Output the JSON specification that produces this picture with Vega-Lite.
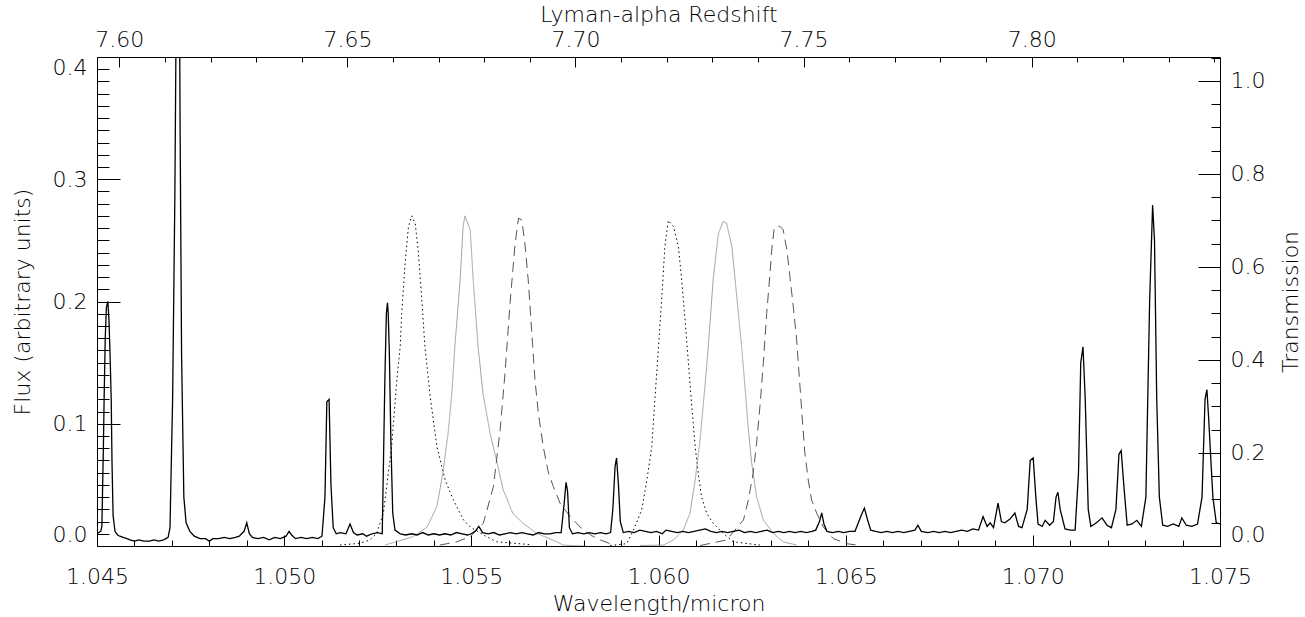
{
  "$schema": "https://vega.github.io/schema/vega-lite/v6.json",
  "width": 1123,
  "height": 489,
  "autosize": {"type": "none"},
  "padding": {"left": 97, "top": 57, "right": 85, "bottom": 71},
  "background": "white",
  "config": {
    "view": {"stroke": "#000000", "strokeWidth": 1},
    "axis": {
      "labelFont": "DejaVu Sans", "labelFontSize": 22, "labelColor": "#000000", "labelFontWeight": 200,
      "titleFont": "DejaVu Sans", "titleFontSize": 22, "titleFontWeight": 200, "titleColor": "#000000",
      "tickColor": "#000000", "tickWidth": 1, "domain": false, "grid": false,
      "labelOverlap": false, "labelFlush": false
    }
  },
  "datasets": {
    "flux": [
      {"wl":1.04500,"f":0.010},{"wl":1.04505,"f":0.011},{"wl":1.04510,"f":0.012},{"wl":1.04513,"f":0.016},{"wl":1.04517,"f":0.08},{"wl":1.04519,"f":0.12},{"wl":1.04522,"f":0.17},{"wl":1.04525,"f":0.195},{"wl":1.04529,"f":0.200},{"wl":1.04532,"f":0.185},{"wl":1.04535,"f":0.155},{"wl":1.04538,"f":0.12},{"wl":1.04540,"f":0.07},{"wl":1.04543,"f":0.025},{"wl":1.04548,"f":0.012},{"wl":1.04555,"f":0.009},{"wl":1.04561,"f":0.008},{"wl":1.04570,"f":0.007},{"wl":1.04580,"f":0.006},{"wl":1.04588,"f":0.005},{"wl":1.04600,"f":0.004},{"wl":1.04612,"f":0.005},{"wl":1.04625,"f":0.004},{"wl":1.04640,"f":0.004},{"wl":1.04652,"f":0.005},{"wl":1.04665,"f":0.004},{"wl":1.04678,"f":0.005},{"wl":1.04690,"f":0.007},{"wl":1.04695,"f":0.015},{"wl":1.04702,"f":0.12},{"wl":1.04708,"f":0.286},{"wl":1.04713,"f":0.5},{"wl":1.04718,"f":0.6},{"wl":1.04722,"f":0.342},{"wl":1.04726,"f":0.155},{"wl":1.04732,"f":0.04},{"wl":1.04738,"f":0.019},{"wl":1.04748,"f":0.012},{"wl":1.04760,"f":0.008},{"wl":1.04775,"f":0.006},{"wl":1.04790,"f":0.006},{"wl":1.04800,"f":0.004},{"wl":1.04810,"f":0.006},{"wl":1.04825,"f":0.006},{"wl":1.04840,"f":0.007},{"wl":1.04855,"f":0.006},{"wl":1.04870,"f":0.007},{"wl":1.04880,"f":0.008},{"wl":1.04893,"f":0.012},{"wl":1.04900,"f":0.019},{"wl":1.04907,"f":0.010},{"wl":1.04915,"f":0.007},{"wl":1.04930,"f":0.006},{"wl":1.04945,"f":0.007},{"wl":1.04960,"f":0.005},{"wl":1.04975,"f":0.007},{"wl":1.04990,"f":0.006},{"wl":1.05005,"f":0.008},{"wl":1.05013,"f":0.012},{"wl":1.05020,"f":0.009},{"wl":1.05030,"f":0.006},{"wl":1.05045,"f":0.007},{"wl":1.05060,"f":0.006},{"wl":1.05075,"f":0.007},{"wl":1.05090,"f":0.006},{"wl":1.05101,"f":0.008},{"wl":1.05109,"f":0.04},{"wl":1.05114,"f":0.118},{"wl":1.05120,"f":0.12},{"wl":1.05125,"f":0.05},{"wl":1.05131,"f":0.015},{"wl":1.05139,"f":0.010},{"wl":1.05150,"f":0.011},{"wl":1.05165,"f":0.010},{"wl":1.05176,"f":0.018},{"wl":1.05185,"f":0.011},{"wl":1.05195,"f":0.009},{"wl":1.05210,"f":0.010},{"wl":1.05220,"f":0.008},{"wl":1.05235,"f":0.010},{"wl":1.05250,"f":0.011},{"wl":1.05262,"f":0.010},{"wl":1.05269,"f":0.136},{"wl":1.05273,"f":0.19},{"wl":1.05276,"f":0.199},{"wl":1.05278,"f":0.19},{"wl":1.05281,"f":0.158},{"wl":1.05285,"f":0.087},{"wl":1.05290,"f":0.027},{"wl":1.05296,"f":0.013},{"wl":1.05310,"f":0.010},{"wl":1.05325,"f":0.009},{"wl":1.05340,"f":0.010},{"wl":1.05355,"f":0.009},{"wl":1.05370,"f":0.011},{"wl":1.05385,"f":0.009},{"wl":1.05400,"f":0.010},{"wl":1.05415,"f":0.009},{"wl":1.05430,"f":0.010},{"wl":1.05445,"f":0.009},{"wl":1.05460,"f":0.011},{"wl":1.05475,"f":0.010},{"wl":1.05490,"f":0.009},{"wl":1.05500,"f":0.010},{"wl":1.05510,"f":0.012},{"wl":1.05520,"f":0.016},{"wl":1.05530,"f":0.011},{"wl":1.05545,"f":0.010},{"wl":1.05560,"f":0.011},{"wl":1.05575,"f":0.009},{"wl":1.05590,"f":0.010},{"wl":1.05605,"f":0.011},{"wl":1.05620,"f":0.010},{"wl":1.05635,"f":0.011},{"wl":1.05650,"f":0.010},{"wl":1.05665,"f":0.009},{"wl":1.05680,"f":0.011},{"wl":1.05695,"f":0.010},{"wl":1.05710,"f":0.010},{"wl":1.05725,"f":0.011},{"wl":1.05740,"f":0.011},{"wl":1.05748,"f":0.035},{"wl":1.05753,"f":0.052},{"wl":1.05757,"f":0.045},{"wl":1.05762,"f":0.015},{"wl":1.05770,"f":0.010},{"wl":1.05785,"f":0.011},{"wl":1.05800,"f":0.010},{"wl":1.05815,"f":0.011},{"wl":1.05830,"f":0.010},{"wl":1.05845,"f":0.011},{"wl":1.05860,"f":0.010},{"wl":1.05872,"f":0.011},{"wl":1.05878,"f":0.03},{"wl":1.05884,"f":0.065},{"wl":1.05888,"f":0.072},{"wl":1.05893,"f":0.05},{"wl":1.05898,"f":0.02},{"wl":1.05906,"f":0.011},{"wl":1.05920,"f":0.012},{"wl":1.05935,"f":0.011},{"wl":1.05950,"f":0.013},{"wl":1.05965,"f":0.012},{"wl":1.05980,"f":0.011},{"wl":1.05995,"f":0.012},{"wl":1.06010,"f":0.010},{"wl":1.06020,"f":0.013},{"wl":1.06035,"f":0.012},{"wl":1.06050,"f":0.011},{"wl":1.06065,"f":0.012},{"wl":1.06080,"f":0.011},{"wl":1.06095,"f":0.012},{"wl":1.06110,"f":0.013},{"wl":1.06125,"f":0.014},{"wl":1.06140,"f":0.012},{"wl":1.06155,"f":0.011},{"wl":1.06170,"f":0.012},{"wl":1.06185,"f":0.011},{"wl":1.06200,"f":0.012},{"wl":1.06215,"f":0.013},{"wl":1.06230,"f":0.011},{"wl":1.06245,"f":0.012},{"wl":1.06260,"f":0.011},{"wl":1.06275,"f":0.012},{"wl":1.06290,"f":0.013},{"wl":1.06305,"f":0.011},{"wl":1.06320,"f":0.012},{"wl":1.06335,"f":0.011},{"wl":1.06350,"f":0.012},{"wl":1.06365,"f":0.011},{"wl":1.06380,"f":0.012},{"wl":1.06395,"f":0.011},{"wl":1.06410,"f":0.012},{"wl":1.06420,"f":0.013},{"wl":1.06430,"f":0.020},{"wl":1.06436,"f":0.027},{"wl":1.06442,"f":0.018},{"wl":1.06450,"f":0.012},{"wl":1.06465,"f":0.011},{"wl":1.06480,"f":0.012},{"wl":1.06495,"f":0.011},{"wl":1.06510,"f":0.012},{"wl":1.06525,"f":0.012},{"wl":1.06540,"f":0.024},{"wl":1.06550,"f":0.031},{"wl":1.06558,"f":0.022},{"wl":1.06567,"f":0.013},{"wl":1.06580,"f":0.012},{"wl":1.06595,"f":0.011},{"wl":1.06610,"f":0.012},{"wl":1.06625,"f":0.011},{"wl":1.06640,"f":0.012},{"wl":1.06655,"f":0.011},{"wl":1.06670,"f":0.012},{"wl":1.06685,"f":0.013},{"wl":1.06693,"f":0.017},{"wl":1.06702,"f":0.012},{"wl":1.06720,"f":0.011},{"wl":1.06735,"f":0.012},{"wl":1.06750,"f":0.011},{"wl":1.06765,"f":0.012},{"wl":1.06780,"f":0.011},{"wl":1.06795,"f":0.012},{"wl":1.06810,"f":0.013},{"wl":1.06825,"f":0.012},{"wl":1.06840,"f":0.014},{"wl":1.06855,"f":0.013},{"wl":1.06867,"f":0.024},{"wl":1.06878,"f":0.016},{"wl":1.06886,"f":0.019},{"wl":1.06895,"f":0.015},{"wl":1.06907,"f":0.035},{"wl":1.06916,"f":0.020},{"wl":1.06925,"f":0.019},{"wl":1.06939,"f":0.022},{"wl":1.06952,"f":0.027},{"wl":1.06962,"f":0.016},{"wl":1.06971,"f":0.015},{"wl":1.06985,"f":0.03},{"wl":1.06993,"f":0.07},{"wl":1.07001,"f":0.072},{"wl":1.07008,"f":0.04},{"wl":1.07014,"f":0.018},{"wl":1.07025,"f":0.016},{"wl":1.07033,"f":0.021},{"wl":1.07045,"f":0.017},{"wl":1.07055,"f":0.02},{"wl":1.07062,"f":0.040},{"wl":1.07067,"f":0.044},{"wl":1.07073,"f":0.03},{"wl":1.07086,"f":0.014},{"wl":1.07100,"f":0.013},{"wl":1.07113,"f":0.013},{"wl":1.07122,"f":0.06},{"wl":1.07128,"f":0.15},{"wl":1.07134,"f":0.163},{"wl":1.07140,"f":0.12},{"wl":1.07148,"f":0.03},{"wl":1.07155,"f":0.016},{"wl":1.07170,"f":0.019},{"wl":1.07185,"f":0.023},{"wl":1.07198,"f":0.017},{"wl":1.07210,"f":0.015},{"wl":1.07222,"f":0.03},{"wl":1.07230,"f":0.075},{"wl":1.07236,"f":0.078},{"wl":1.07243,"f":0.05},{"wl":1.07252,"f":0.017},{"wl":1.07265,"f":0.018},{"wl":1.07278,"f":0.021},{"wl":1.07290,"f":0.016},{"wl":1.07302,"f":0.04},{"wl":1.07312,"f":0.2},{"wl":1.07320,"f":0.279},{"wl":1.07325,"f":0.25},{"wl":1.07331,"f":0.12},{"wl":1.07338,"f":0.04},{"wl":1.07347,"f":0.017},{"wl":1.07360,"f":0.016},{"wl":1.07375,"f":0.018},{"wl":1.07390,"f":0.016},{"wl":1.07398,"f":0.023},{"wl":1.07410,"f":0.017},{"wl":1.07425,"f":0.016},{"wl":1.07440,"f":0.018},{"wl":1.07452,"f":0.04},{"wl":1.07460,"f":0.12},{"wl":1.07465,"f":0.128},{"wl":1.07470,"f":0.103},{"wl":1.07476,"f":0.068},{"wl":1.07481,"f":0.04},{"wl":1.07490,"f":0.019},{"wl":1.07500,"f":0.018}
    ],
    "filt": [
      {"id":"d1","s":"dotted","wl":1.05149,"t":0.002},{"id":"d1","s":"dotted","wl":1.05203,"t":0.006},{"id":"d1","s":"dotted","wl":1.05229,"t":0.013},{"id":"d1","s":"dotted","wl":1.05247,"t":0.027},{"id":"d1","s":"dotted","wl":1.05256,"t":0.049},{"id":"d1","s":"dotted","wl":1.05265,"t":0.070},{"id":"d1","s":"dotted","wl":1.05287,"t":0.214},{"id":"d1","s":"dotted","wl":1.05301,"t":0.357},{"id":"d1","s":"dotted","wl":1.05310,"t":0.429},{"id":"d1","s":"dotted","wl":1.05314,"t":0.500},{"id":"d1","s":"dotted","wl":1.05323,"t":0.607},{"id":"d1","s":"dotted","wl":1.05332,"t":0.687},{"id":"d1","s":"dotted","wl":1.05341,"t":0.710},{"id":"d1","s":"dotted","wl":1.05350,"t":0.694},{"id":"d1","s":"dotted","wl":1.05358,"t":0.637},{"id":"d1","s":"dotted","wl":1.05367,"t":0.537},{"id":"d1","s":"dotted","wl":1.05376,"t":0.429},{"id":"d1","s":"dotted","wl":1.05390,"t":0.322},{"id":"d1","s":"dotted","wl":1.05408,"t":0.214},{"id":"d1","s":"dotted","wl":1.05430,"t":0.142},{"id":"d1","s":"dotted","wl":1.05452,"t":0.099},{"id":"d1","s":"dotted","wl":1.05479,"t":0.056},{"id":"d1","s":"dotted","wl":1.05497,"t":0.041},{"id":"d1","s":"dotted","wl":1.05541,"t":0.020},{"id":"d1","s":"dotted","wl":1.05568,"t":0.009},{"id":"d1","s":"dotted","wl":1.05657,"t":0.003},
      {"id":"g1","s":"solid","wl":1.05269,"t":0.002},{"id":"g1","s":"solid","wl":1.05344,"t":0.020},{"id":"g1","s":"solid","wl":1.05382,"t":0.041},{"id":"g1","s":"solid","wl":1.05408,"t":0.085},{"id":"g1","s":"solid","wl":1.05424,"t":0.157},{"id":"g1","s":"solid","wl":1.05438,"t":0.243},{"id":"g1","s":"solid","wl":1.05448,"t":0.329},{"id":"g1","s":"solid","wl":1.05456,"t":0.429},{"id":"g1","s":"solid","wl":1.05470,"t":0.572},{"id":"g1","s":"solid","wl":1.05478,"t":0.687},{"id":"g1","s":"solid","wl":1.05483,"t":0.710},{"id":"g1","s":"solid","wl":1.05497,"t":0.680},{"id":"g1","s":"solid","wl":1.05505,"t":0.572},{"id":"g1","s":"solid","wl":1.05518,"t":0.429},{"id":"g1","s":"solid","wl":1.05531,"t":0.329},{"id":"g1","s":"solid","wl":1.05550,"t":0.243},{"id":"g1","s":"solid","wl":1.05569,"t":0.178},{"id":"g1","s":"solid","wl":1.05585,"t":0.121},{"id":"g1","s":"solid","wl":1.05611,"t":0.070},{"id":"g1","s":"solid","wl":1.05638,"t":0.049},{"id":"g1","s":"solid","wl":1.05675,"t":0.027},{"id":"g1","s":"solid","wl":1.05729,"t":0.009},{"id":"g1","s":"solid","wl":1.05745,"t":0.002},{"id":"g1","s":"solid","wl":1.05800,"t":0.0},
      {"id":"s1","s":"dashed","wl":1.05416,"t":0.002},{"id":"s1","s":"dashed","wl":1.05461,"t":0.009},{"id":"s1","s":"dashed","wl":1.05497,"t":0.020},{"id":"s1","s":"dashed","wl":1.05532,"t":0.049},{"id":"s1","s":"dashed","wl":1.05537,"t":0.063},{"id":"s1","s":"dashed","wl":1.05559,"t":0.128},{"id":"s1","s":"dashed","wl":1.05577,"t":0.250},{"id":"s1","s":"dashed","wl":1.05590,"t":0.372},{"id":"s1","s":"dashed","wl":1.05603,"t":0.518},{"id":"s1","s":"dashed","wl":1.05617,"t":0.651},{"id":"s1","s":"dashed","wl":1.05626,"t":0.705},{"id":"s1","s":"dashed","wl":1.05635,"t":0.701},{"id":"s1","s":"dashed","wl":1.05643,"t":0.651},{"id":"s1","s":"dashed","wl":1.05652,"t":0.572},{"id":"s1","s":"dashed","wl":1.05661,"t":0.465},{"id":"s1","s":"dashed","wl":1.05670,"t":0.357},{"id":"s1","s":"dashed","wl":1.05679,"t":0.286},{"id":"s1","s":"dashed","wl":1.05692,"t":0.214},{"id":"s1","s":"dashed","wl":1.05706,"t":0.157},{"id":"s1","s":"dashed","wl":1.05719,"t":0.128},{"id":"s1","s":"dashed","wl":1.05737,"t":0.092},{"id":"s1","s":"dashed","wl":1.05764,"t":0.063},{"id":"s1","s":"dashed","wl":1.05799,"t":0.034},{"id":"s1","s":"dashed","wl":1.05835,"t":0.016},{"id":"s1","s":"dashed","wl":1.05871,"t":0.005},
      {"id":"d2","s":"dotted","wl":1.05871,"t":0.001},{"id":"d2","s":"dotted","wl":1.05915,"t":0.005},{"id":"d2","s":"dotted","wl":1.05933,"t":0.034},{"id":"d2","s":"dotted","wl":1.05955,"t":0.077},{"id":"d2","s":"dotted","wl":1.05969,"t":0.142},{"id":"d2","s":"dotted","wl":1.05982,"t":0.214},{"id":"d2","s":"dotted","wl":1.05991,"t":0.322},{"id":"d2","s":"dotted","wl":1.06000,"t":0.429},{"id":"d2","s":"dotted","wl":1.06009,"t":0.537},{"id":"d2","s":"dotted","wl":1.06017,"t":0.644},{"id":"d2","s":"dotted","wl":1.06026,"t":0.700},{"id":"d2","s":"dotted","wl":1.06040,"t":0.687},{"id":"d2","s":"dotted","wl":1.06053,"t":0.644},{"id":"d2","s":"dotted","wl":1.06062,"t":0.572},{"id":"d2","s":"dotted","wl":1.06071,"t":0.486},{"id":"d2","s":"dotted","wl":1.06080,"t":0.393},{"id":"d2","s":"dotted","wl":1.06089,"t":0.300},{"id":"d2","s":"dotted","wl":1.06098,"t":0.214},{"id":"d2","s":"dotted","wl":1.06106,"t":0.157},{"id":"d2","s":"dotted","wl":1.06115,"t":0.106},{"id":"d2","s":"dotted","wl":1.06129,"t":0.070},{"id":"d2","s":"dotted","wl":1.06146,"t":0.049},{"id":"d2","s":"dotted","wl":1.06173,"t":0.027},{"id":"d2","s":"dotted","wl":1.06200,"t":0.009},{"id":"d2","s":"dotted","wl":1.06271,"t":0.002},
      {"id":"g2","s":"solid","wl":1.05951,"t":0.001},{"id":"g2","s":"solid","wl":1.06013,"t":0.002},{"id":"g2","s":"solid","wl":1.06040,"t":0.013},{"id":"g2","s":"solid","wl":1.06066,"t":0.034},{"id":"g2","s":"solid","wl":1.06084,"t":0.070},{"id":"g2","s":"solid","wl":1.06098,"t":0.142},{"id":"g2","s":"solid","wl":1.06111,"t":0.228},{"id":"g2","s":"solid","wl":1.06124,"t":0.343},{"id":"g2","s":"solid","wl":1.06133,"t":0.429},{"id":"g2","s":"solid","wl":1.06146,"t":0.572},{"id":"g2","s":"solid","wl":1.06160,"t":0.672},{"id":"g2","s":"solid","wl":1.06173,"t":0.698},{"id":"g2","s":"solid","wl":1.06182,"t":0.694},{"id":"g2","s":"solid","wl":1.06196,"t":0.644},{"id":"g2","s":"solid","wl":1.06209,"t":0.537},{"id":"g2","s":"solid","wl":1.06222,"t":0.429},{"id":"g2","s":"solid","wl":1.06231,"t":0.343},{"id":"g2","s":"solid","wl":1.06240,"t":0.250},{"id":"g2","s":"solid","wl":1.06249,"t":0.178},{"id":"g2","s":"solid","wl":1.06262,"t":0.106},{"id":"g2","s":"solid","wl":1.06280,"t":0.056},{"id":"g2","s":"solid","wl":1.06307,"t":0.027},{"id":"g2","s":"solid","wl":1.06333,"t":0.009},{"id":"g2","s":"solid","wl":1.06369,"t":0.002},
      {"id":"s2","s":"dashed","wl":1.06111,"t":0.001},{"id":"s2","s":"dashed","wl":1.06182,"t":0.013},{"id":"s2","s":"dashed","wl":1.06227,"t":0.056},{"id":"s2","s":"dashed","wl":1.06240,"t":0.099},{"id":"s2","s":"dashed","wl":1.06253,"t":0.157},{"id":"s2","s":"dashed","wl":1.06262,"t":0.221},{"id":"s2","s":"dashed","wl":1.06271,"t":0.300},{"id":"s2","s":"dashed","wl":1.06280,"t":0.393},{"id":"s2","s":"dashed","wl":1.06289,"t":0.500},{"id":"s2","s":"dashed","wl":1.06298,"t":0.587},{"id":"s2","s":"dashed","wl":1.06302,"t":0.633},{"id":"s2","s":"dashed","wl":1.06309,"t":0.683},{"id":"s2","s":"dashed","wl":1.06317,"t":0.688},{"id":"s2","s":"dashed","wl":1.06325,"t":0.687},{"id":"s2","s":"dashed","wl":1.06333,"t":0.680},{"id":"s2","s":"dashed","wl":1.06343,"t":0.637},{"id":"s2","s":"dashed","wl":1.06351,"t":0.580},{"id":"s2","s":"dashed","wl":1.06360,"t":0.515},{"id":"s2","s":"dashed","wl":1.06369,"t":0.444},{"id":"s2","s":"dashed","wl":1.06378,"t":0.343},{"id":"s2","s":"dashed","wl":1.06383,"t":0.286},{"id":"s2","s":"dashed","wl":1.06391,"t":0.200},{"id":"s2","s":"dashed","wl":1.06400,"t":0.142},{"id":"s2","s":"dashed","wl":1.06409,"t":0.099},{"id":"s2","s":"dashed","wl":1.06423,"t":0.070},{"id":"s2","s":"dashed","wl":1.06440,"t":0.041},{"id":"s2","s":"dashed","wl":1.06467,"t":0.016},{"id":"s2","s":"dashed","wl":1.06503,"t":0.005},{"id":"s2","s":"dashed","wl":1.06538,"t":0.001}
    ]
  },
  "layer": [
    {
      "data": {"name": "filt"},
      "mark": {"type": "line", "strokeWidth": 1, "clip": true},
      "encoding": {
        "x": {"field": "wl", "type": "quantitative", "scale": {"domain": [1.045, 1.075], "nice": false, "zero": false}, "axis": null},
        "y": {"field": "t", "type": "quantitative", "scale": {"domain": [0, 1.0516], "nice": false, "zero": false},
              "axis": {"orient": "right", "values": [0, 0.2, 0.4, 0.6, 0.8, 1.0], "format": ".1f", "tickSize": -22, "labelPadding": 32, "labelFlush": true,
                       "title": "Transmission", "titleAngle": 270, "titleBaseline": "alphabetic", "titleX": 77}},
        "detail": {"field": "id"},
        "color": {"field": "s", "type": "nominal", "scale": {"domain": ["dotted", "solid", "dashed"], "range": ["#000000", "#a0a0a0", "#555555"]}, "legend": null},
        "strokeDash": {"field": "s", "type": "nominal", "scale": {"domain": ["dotted", "solid", "dashed"], "range": [[1.5, 3], [1, 0], [10, 6]]}, "legend": null}
      }
    },
    {
      "data": {"name": "flux"},
      "mark": {"type": "line", "color": "#000000", "strokeWidth": 1.3, "clip": true},
      "encoding": {
        "x": {"field": "wl", "type": "quantitative", "scale": {"domain": [1.045, 1.075], "nice": false, "zero": false},
              "axis": {"orient": "bottom", "values": [1.045, 1.05, 1.055, 1.06, 1.065, 1.07, 1.075], "format": ".3f", "tickSize": -11, "labelPadding": 31,
                       "title": "Wavelength/micron", "titleBaseline": "alphabetic", "titleY": 64}},
        "y": {"field": "f", "type": "quantitative", "scale": {"domain": [0, 0.4], "nice": false, "zero": false},
              "axis": {"orient": "left", "values": [0, 0.1, 0.2, 0.3, 0.4], "format": ".1f", "tickSize": -23, "labelPadding": 33, "labelFlush": true,
                       "title": "Flux (arbitrary units)", "titleAngle": 270, "titleBaseline": "alphabetic", "titleX": -68}}
      }
    },
    {
      "data": {"values": [{"z": 7.7}]},
      "mark": {"type": "point", "opacity": 0},
      "encoding": {
        "x": {"field": "z", "type": "quantitative", "scale": {"domain": [7.59511, 7.84128], "nice": false, "zero": false},
              "axis": {"orient": "top", "values": [7.6, 7.65, 7.7, 7.75, 7.8], "format": ".2f", "tickSize": -10, "labelPadding": 16,
                       "title": "Lyman-alpha Redshift", "titleBaseline": "alphabetic", "titleY": -36}}
      }
    },
    {
      "data": {"values": [{"wl": 1.06, "f": 0.1}]},
      "mark": {"type": "point", "opacity": 0},
      "encoding": {
        "x": {"field": "wl", "type": "quantitative", "scale": {"domain": [1.045, 1.075], "nice": false, "zero": false},
              "axis": {"orient": "bottom", "values": [1.046,1.047,1.048,1.049,1.051,1.052,1.053,1.054,1.056,1.057,1.058,1.059,1.061,1.062,1.063,1.064,1.066,1.067,1.068,1.069,1.071,1.072,1.073,1.074],
                       "labels": false, "tickSize": -6, "title": null}},
        "y": {"field": "f", "type": "quantitative", "scale": {"domain": [0, 0.4], "nice": false, "zero": false},
              "axis": {"orient": "left", "values": [0.01,0.02,0.03,0.04,0.05,0.06,0.07,0.08,0.09,0.11,0.12,0.13,0.14,0.15,0.16,0.17,0.18,0.19,0.21,0.22,0.23,0.24,0.25,0.26,0.27,0.28,0.29,0.31,0.32,0.33,0.34,0.35,0.36,0.37,0.38,0.39],
                       "labels": false, "tickSize": -12, "title": null}}
      }
    },
    {
      "data": {"values": [{"z": 7.7, "t": 0.5}]},
      "mark": {"type": "point", "opacity": 0},
      "encoding": {
        "x": {"field": "z", "type": "quantitative", "scale": {"domain": [7.59511, 7.84128], "nice": false, "zero": false},
              "axis": {"orient": "top", "values": [7.61,7.62,7.63,7.64,7.66,7.67,7.68,7.69,7.71,7.72,7.73,7.74,7.76,7.77,7.78,7.79,7.81,7.82,7.83,7.84],
                       "labels": false, "tickSize": -5, "title": null}},
        "y": {"field": "t", "type": "quantitative", "scale": {"domain": [0, 1.0516], "nice": false, "zero": false},
              "axis": {"orient": "right", "values": [0.05,0.1,0.15,0.25,0.3,0.35,0.45,0.5,0.55,0.65,0.7,0.75,0.85,0.9,0.95,1.05],
                       "labels": false, "tickSize": -9, "title": null}}
      }
    }
  ],
  "resolve": {
    "scale": {"x": "independent", "y": "independent", "color": "independent", "strokeDash": "independent"},
    "axis": {"x": "independent", "y": "independent"}
  }
}
